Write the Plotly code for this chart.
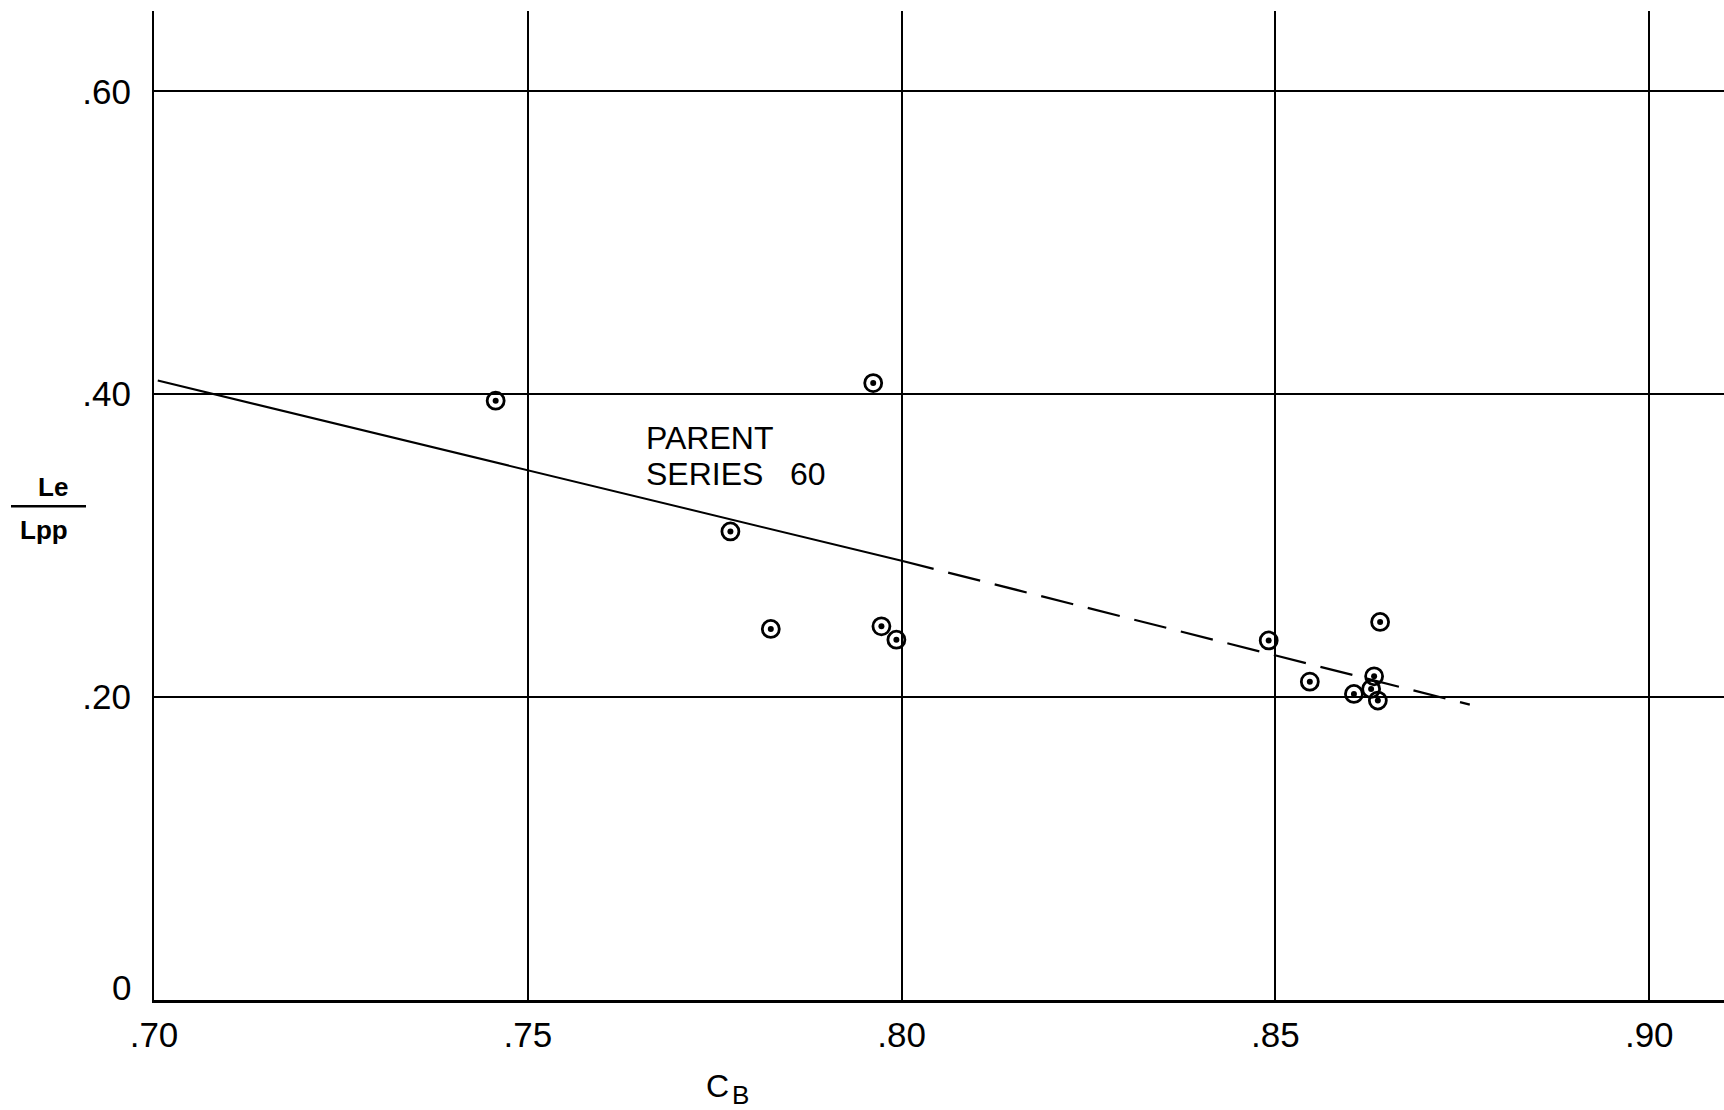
import plotly.graph_objects as go

# Data
cb = [0.7457, 0.7962, 0.7771, 0.7825, 0.7973, 0.7993, 0.8491, 0.8546, 0.8605, 0.8640, 0.8632, 0.8628, 0.8637]
le_lpp = [0.3957, 0.4073, 0.3094, 0.2450, 0.2467, 0.2379, 0.2374, 0.2102, 0.2021, 0.2496, 0.2137, 0.2054, 0.1977]

solid_x = [0.7005, 0.800]
solid_y = [0.409, 0.290]
dash_x = [0.800, 0.876]
dash_y = [0.290, 0.195]

x_ticks = [0.70, 0.75, 0.80, 0.85, 0.90]
x_tick_text = [".70", ".75", ".80", ".85", ".90"]
y_ticks = [0.0, 0.20, 0.40, 0.60]
y_tick_text = ["", ".20", ".40", ".60"]

FONT = "Liberation Sans, Arial, sans-serif"

fig = go.Figure()
fig.add_trace(go.Scatter(x=solid_x, y=solid_y, mode="lines",
                         line=dict(color="black", width=2), showlegend=False, hoverinfo="skip"))
fig.add_trace(go.Scatter(x=dash_x, y=dash_y, mode="lines",
                         line=dict(color="black", width=2.2, dash="33px,15px"),
                         showlegend=False, hoverinfo="skip"))
fig.add_trace(go.Scatter(x=cb, y=le_lpp, mode="markers",
                         marker=dict(symbol="circle-open", size=17, color="black",
                                     line=dict(width=2.8, color="black")),
                         showlegend=False))
fig.add_trace(go.Scatter(x=cb, y=le_lpp, mode="markers",
                         marker=dict(symbol="circle", size=6, color="black"),
                         showlegend=False, hoverinfo="skip"))

fig.update_xaxes(range=[0.70, 0.91], tickvals=x_ticks, ticktext=x_tick_text,
                 showgrid=True, gridcolor="black", gridwidth=1.8,
                 showline=True, linecolor="black", linewidth=2.8,
                 zeroline=False, ticks="", ticklabelstandoff=2,
                 tickfont=dict(family=FONT, size=35, color="black"))
fig.update_yaxes(range=[0, 0.653], tickvals=y_ticks, ticktext=y_tick_text,
                 showgrid=True, gridcolor="black", gridwidth=1.8,
                 showline=True, linecolor="black", linewidth=2.2,
                 zeroline=False, ticks="", ticklabelstandoff=14,
                 tickfont=dict(family=FONT, size=35, color="black"))

annotations = [
    dict(x=0.7655, y=0.371, xref="x", yref="y", text="PARENT", showarrow=False,
         xanchor="left", yanchor="middle", font=dict(family=FONT, size=32, color="black")),
    dict(x=0.7655, y=0.347, xref="x", yref="y", text="SERIES&nbsp;&nbsp;&nbsp;60", showarrow=False,
         xanchor="left", yanchor="middle", font=dict(family=FONT, size=32, color="black")),
    dict(x=0, y=0, xref="paper", yref="y", xshift=-21, yshift=13, text="0", showarrow=False,
         xanchor="right", yanchor="middle", font=dict(family=FONT, size=35, color="black")),
    dict(x=0.7765, y=0, xref="x", yref="paper", xshift=-8, yshift=-86, text="C", showarrow=False,
         xanchor="center", yanchor="middle", font=dict(family=FONT, size=32, color="black")),
    dict(x=0.7765, y=0, xref="x", yref="paper", xshift=15, yshift=-95, text="B", showarrow=False,
         xanchor="center", yanchor="middle", font=dict(family=FONT, size=26, color="black")),
    dict(x=0, y=0.339, xref="paper", yref="y", xshift=-101, text="<b>Le</b>", showarrow=False,
         xanchor="center", yanchor="middle", font=dict(family=FONT, size=26, color="black")),
    dict(x=0, y=0.310, xref="paper", yref="y", xshift=-110, text="<b>Lpp</b>", showarrow=False,
         xanchor="center", yanchor="middle", font=dict(family=FONT, size=26, color="black")),
]

fig.update_layout(
    width=1724, height=1110,
    margin=dict(l=154, r=0, t=11, b=110),
    plot_bgcolor="white", paper_bgcolor="white",
    annotations=annotations,
    shapes=[dict(type="line", xref="paper", yref="y", x0=-143/1570, x1=-68/1570,
                 y0=0.326, y1=0.326, line=dict(color="black", width=2.5))],
)

fig.write_html("out.html", config={"displayModeBar": False},
               post_script="document.body.style.margin='0';document.body.style.overflow='hidden';")
